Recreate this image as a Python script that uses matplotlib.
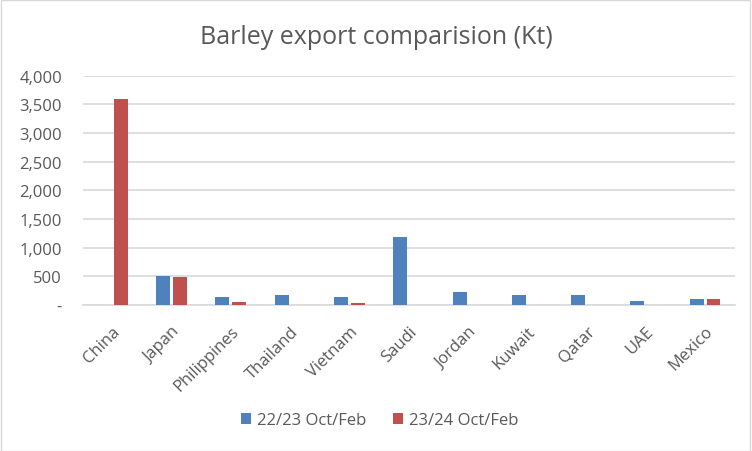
import matplotlib
matplotlib.use("Agg")
import matplotlib.pyplot as plt
import numpy as np
from matplotlib.patches import Rectangle

categories = ["China", "Japan", "Philippines", "Thailand", "Vietnam", "Saudi",
              "Jordan", "Kuwait", "Qatar", "UAE", "Mexico"]
series1_name = "22/23 Oct/Feb"
series2_name = "23/24 Oct/Feb"
series1 = [0, 503, 148, 183, 148, 1195, 219, 183, 166, 77, 112]
series2 = [3602, 485, 59, 0, 41, 0, 0, 0, 0, 0, 112]
yticks = [0, 500, 1000, 1500, 2000, 2500, 3000, 3500, 4000]
ytick_labels = ["-", "500", "1,000", "1,500", "2,000", "2,500", "3,000", "3,500", "4,000"]
title = "Barley export comparision (Kt)"

plt.rcParams['font.family'] = ['Open Sans', 'DejaVu Sans']
text_color = "#595959"
blue = "#4F81BD"
red = "#C0504D"

fig = plt.figure(figsize=(7.52, 4.52), dpi=100)
fig.patches.append(Rectangle((0.001, 0.001), 0.997, 0.997, transform=fig.transFigure,
                             fill=False, edgecolor="#D9D9D9", linewidth=1))
ax = fig.add_axes([0.110, 0.323, 0.867, 0.507])

x = np.arange(len(categories))
w = 0.235
gap = 0.05
ax.bar(x - w / 2 - gap / 2, series1, width=w, color=blue, label=series1_name, zorder=3)
ax.bar(x + w / 2 + gap / 2, series2, width=w, color=red, label=series2_name, zorder=3)

ax.set_xlim(-0.5, len(categories) - 0.5)
ax.set_ylim(0, 4000)
ax.set_yticks(yticks)
ax.set_yticklabels(ytick_labels)
ax.set_xticks(x)
ax.set_xticklabels(categories, rotation=45, ha="right", rotation_mode="anchor")
for lbl in ax.get_xticklabels():
    lbl.set_x(lbl.get_position()[0])
ax.grid(axis="y", color="#D9D9D9", linewidth=1.2, zorder=0)
for s in ["top", "right", "left"]:
    ax.spines[s].set_visible(False)
ax.spines["bottom"].set_color("#D9D9D9")
ax.spines["bottom"].set_linewidth(1.2)
ax.tick_params(axis="both", length=0, colors=text_color, labelsize=12)
ax.tick_params(axis="y", pad=15)
ax.tick_params(axis="x", pad=13)

fig.text(0.5, 0.917, title, ha="center", va="center", fontsize=18, color=text_color)
fig.legend(loc="center", bbox_to_anchor=(0.505, 0.068), ncol=2, frameon=False,
           fontsize=12, labelcolor=text_color, handlelength=0.6, handleheight=0.6,
           columnspacing=1.6, handletextpad=0.35)

fig.savefig("out.png", dpi=100)
